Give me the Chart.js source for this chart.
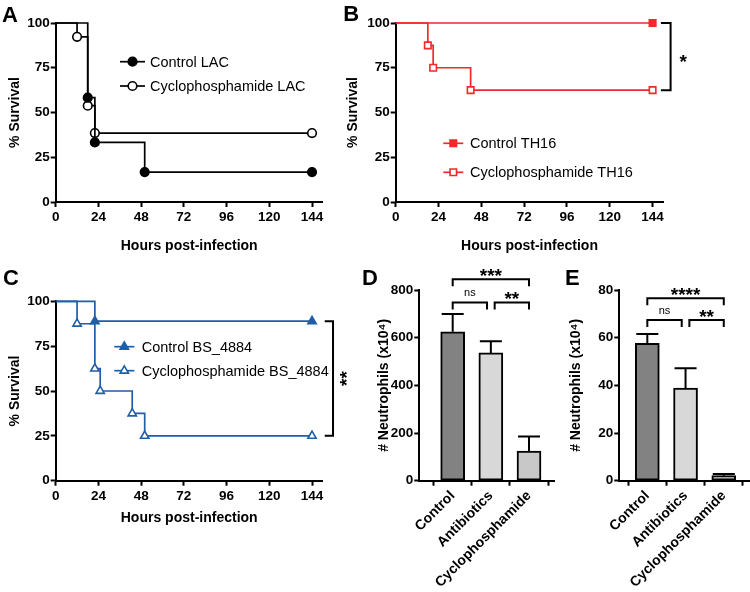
<!DOCTYPE html>
<html>
<head>
<meta charset="utf-8">
<script src="https://cdn.jsdelivr.net/npm/chart.js@4.4.0/dist/chart.umd.min.js"></script>
<style>
  body { margin: 0; background: #fff; }
  #fig { position: relative; width: 750px; height: 592px; overflow: hidden; }
  canvas { position: absolute; }
</style>
</head>
<body>
<div id="fig">
  <canvas id="cA" width="340" height="270" style="left:0;top:0"></canvas>
  <canvas id="cB" width="410" height="270" style="left:340px;top:0"></canvas>
  <canvas id="cC" width="360" height="290" style="left:0;top:260px"></canvas>
  <canvas id="cD" width="195" height="332" style="left:360px;top:260px"></canvas>
  <canvas id="cE" width="195" height="332" style="left:555px;top:260px"></canvas>
</div>
<script>
/* ---- data ---- */
const hourTicks = [0, 24, 48, 72, 96, 120, 144];
const survTicks = [0, 25, 50, 75, 100];

// A - LAC
const ctrlLacHours = [0, 18, 22, 50, 144];
const ctrlLacSurv  = [100, 58.3, 33.3, 16.7, 16.7];
const cycLacHours  = [0, 12, 18, 22, 144];
const cycLacSurv   = [100, 92.3, 53.8, 38.5, 38.5];
// B - TH16
const ctrlThHours = [0, 144];
const ctrlThSurv  = [100, 100];
const cycThHours  = [0, 18, 21, 42, 144];
const cycThSurv   = [100, 87.5, 75, 62.5, 62.5];
// C - BS_4884
const ctrlBsHours = [0, 22, 144];
const ctrlBsSurv  = [100, 88.9, 88.9];
const cycBsHours  = [0, 12, 22, 25, 43, 50, 144];
const cycBsSurv   = [100, 87.5, 62.5, 50, 37.5, 25, 25];

// D / E - neutrophils
const groups = ['Control', 'Antibiotics', 'Cyclophosphamide'];
const neutroD = [625, 536, 124];
const semD    = [74, 49, 61];
const neutroE = [57.6, 38.9, 2.1];
const semE    = [3.9, 8.3, 0.7];
const ticksD  = [0, 200, 400, 600, 800];
const ticksE  = [0, 20, 40, 60, 80];
// [from, to, y, label]
const sigD = [[0, 2, 845, '***'], [0, 0.9, 748, 'ns'], [1.1, 2, 748, '**']];
const sigE = [[0, 2, 76.5, '****'], [0, 0.9, 67.4, 'ns'], [1.1, 2, 67.4, '**']];

/* ---- look ---- */
const FONT = '"Liberation Sans", Arial, Helvetica, sans-serif';
Chart.defaults.font.family = FONT;
Chart.defaults.color = '#000';

const RED = '#f2282a';
const BLUE = '#1f5ea8';
const barColors = ['#828282', '#d8d8d8', '#c8c8c8'];

const gridOpts = { drawOnChartArea: false, drawTicks: true, tickLength: 5, tickWidth: 2, tickColor: '#000' };
const borderOpts = { display: true, color: '#000', width: 2 };
const tickFont = { size: 13.5, weight: 'bold' };
const titleFont = { size: 14, weight: 'bold' };

function drawMarker(ctx, style, x, y, r, color, filled) {
    ctx.save();
    ctx.beginPath();
    if (style === 'circle') {
        ctx.arc(x, y, r, 0, Math.PI * 2);
    } else if (style === 'rect') {
        const s = r * Math.SQRT1_2;
        ctx.rect(x - s, y - s, 2 * s, 2 * s);
    } else {
        ctx.moveTo(x, y - r);
        ctx.lineTo(x + 0.866 * r, y + 0.5 * r);
        ctx.lineTo(x - 0.866 * r, y + 0.5 * r);
        ctx.closePath();
    }
    ctx.fillStyle = filled ? color : '#fff';
    ctx.fill();
    ctx.lineWidth = 1.6;
    ctx.strokeStyle = color;
    ctx.stroke();
    ctx.restore();
}

function drawLetter(ctx, txt, x, y) {
    ctx.save();
    ctx.font = 'bold 22px ' + FONT;
    ctx.fillStyle = '#000';
    ctx.textBaseline = 'alphabetic';
    ctx.fillText(txt, x, y);
    ctx.restore();
}

function drawLegend(ctx, items, x0, x1, tx) {
    ctx.save();
    ctx.font = '14.5px ' + FONT;
    ctx.textBaseline = 'middle';
    for (const it of items) {
        ctx.beginPath();
        ctx.moveTo(x0, it.y);
        ctx.lineTo(x1, it.y);
        ctx.strokeStyle = it.color;
        ctx.lineWidth = 1.7;
        ctx.stroke();
        drawMarker(ctx, it.style, (x0 + x1) / 2, it.y, it.r, it.color, it.filled);
        ctx.fillStyle = '#000';
        ctx.fillText(it.text, tx, it.y + 1);
    }
    ctx.restore();
}

// asterisk glyph sits high in the em box, so place by glyph centre
function drawStars(ctx, txt, cx, cy, size, vertical) {
    ctx.save();
    ctx.font = 'bold ' + size + 'px ' + FONT;
    ctx.fillStyle = '#000';
    ctx.textAlign = 'center';
    ctx.textBaseline = 'alphabetic';
    if (vertical) {
        ctx.translate(cx + 0.58 * size, cy);
        ctx.rotate(-Math.PI / 2);
        ctx.fillText(txt, 0, 0);
    } else {
        ctx.fillText(txt, cx, cy + 0.58 * size);
    }
    ctx.restore();
}

function sideBracket(chart, yTop, yBot, a, b, stars, sx, vertical) {
    const ctx = chart.ctx;
    const xs = chart.scales.x, ys = chart.scales.y;
    const x144 = xs.getPixelForValue(144);
    const y1 = ys.getPixelForValue(yTop), y2 = ys.getPixelForValue(yBot);
    ctx.save();
    ctx.beginPath();
    ctx.moveTo(x144 + a, y1);
    ctx.lineTo(x144 + b, y1);
    ctx.lineTo(x144 + b, y2);
    ctx.lineTo(x144 + a, y2);
    ctx.strokeStyle = '#000';
    ctx.lineWidth = 2;
    ctx.stroke();
    ctx.restore();
    drawStars(ctx, stars, x144 + sx, (y1 + y2) / 2, 19, vertical);
}

function kmSet(hours, surv, color, style, filled, r) {
    return {
        data: hours.map((h, i) => ({ x: h, y: surv[i] })),
        stepped: 'before',
        borderColor: color,
        borderWidth: 1.7,
        pointStyle: style,
        pointRadius: hours.map((h, i) => (i === 0 ? 0 : r)),
        pointBackgroundColor: filled ? color : '#fff',
        pointBorderColor: color,
        pointBorderWidth: 1.6,
        clip: false
    };
}

function kmChart(id, datasets, cfg, extra) {
    return new Chart(document.getElementById(id), {
        type: 'line',
        data: { datasets },
        options: {
            responsive: false,
            animation: false,
            layout: { padding: { top: cfg.top, right: cfg.right, left: 0, bottom: 0 } },
            plugins: { legend: { display: false }, tooltip: { enabled: false } },
            scales: {
                x: {
                    type: 'linear', min: 0, max: 150,
                    afterBuildTicks: s => { s.ticks = hourTicks.map(v => ({ value: v })); },
                    afterFit: s => { s.height = cfg.xh; },
                    grid: gridOpts, border: borderOpts,
                    ticks: { font: tickFont, padding: 2, maxRotation: 0, autoSkip: false },
                    title: { display: true, text: 'Hours post-infection', font: titleFont,
                             padding: { top: 0, bottom: cfg.xtb } }
                },
                y: {
                    type: 'linear', min: 0, max: 100,
                    afterBuildTicks: s => { s.ticks = survTicks.map(v => ({ value: v })); },
                    afterFit: s => { s.width = cfg.yw; },
                    grid: gridOpts, border: borderOpts,
                    ticks: { font: tickFont, padding: 1 },
                    title: { display: true, text: '% Survival', font: titleFont,
                             padding: { top: cfg.ytp, bottom: 0 } }
                }
            }
        },
        plugins: [{ id: 'extras', afterDraw: extra }]
    });
}

/* ---- A ---- */
kmChart('cA', [
    kmSet(ctrlLacHours, ctrlLacSurv, '#000', 'circle', true, 4.3),
    kmSet(cycLacHours, cycLacSurv, '#000', 'circle', false, 4.3)
], { top: 23, right: 17.3, yw: 55.7, xh: 68, xtb: 15.6, ytp: 6.6 }, chart => {
    const ctx = chart.ctx;
    drawLetter(ctx, 'A', 2, 21.7);
    drawLegend(ctx, [
        { y: 61.7, text: 'Control LAC', color: '#000', style: 'circle', r: 4.3, filled: true },
        { y: 86, text: 'Cyclophosphamide LAC', color: '#000', style: 'circle', r: 4.3, filled: false }
    ], 120, 145, 150);
});

/* ---- B ---- */
kmChart('cB', [
    kmSet(ctrlThHours, ctrlThSurv, RED, 'rect', true, 4.6),
    kmSet(cycThHours, cycThSurv, RED, 'rect', false, 4.6)
], { top: 23, right: 86.7, yw: 55.7, xh: 68, xtb: 15.6, ytp: 4.6 }, chart => {
    const ctx = chart.ctx;
    drawLetter(ctx, 'B', 3.3, 20.7);
    drawLegend(ctx, [
        { y: 143.3, text: 'Control TH16', color: RED, style: 'rect', r: 4.6, filled: true },
        { y: 172.3, text: 'Cyclophosphamide TH16', color: RED, style: 'rect', r: 4.6, filled: false }
    ], 103.3, 123.3, 130);
    sideBracket(chart, ctrlThSurv[ctrlThSurv.length - 1], cycThSurv[cycThSurv.length - 1], 8.3, 18, '*', 30.6, false);
});

/* ---- C ---- */
kmChart('cC', [
    kmSet(ctrlBsHours, ctrlBsSurv, BLUE, 'triangle', true, 4.8),
    kmSet(cycBsHours, cycBsSurv, BLUE, 'triangle', false, 4.8)
], { top: 41.3, right: 37.3, yw: 55.7, xh: 69.3, xtb: 23.6, ytp: 6.6 }, chart => {
    const ctx = chart.ctx;
    drawLetter(ctx, 'C', 3, 25);
    drawLegend(ctx, [
        { y: 86.7, text: 'Control BS_4884', color: BLUE, style: 'triangle', r: 4.8, filled: true },
        { y: 110.7, text: 'Cyclophosphamide BS_4884', color: BLUE, style: 'triangle', r: 4.8, filled: false }
    ], 114.3, 134.3, 141.7);
    sideBracket(chart, ctrlBsSurv[ctrlBsSurv.length - 1], cycBsSurv[cycBsSurv.length - 1], 12.7, 21, '**', 30, true);
});

/* ---- D / E ---- */
function barChart(id, letter, lx, values, sems, yTicks, xMin, xMax, sig, cfg) {
    return new Chart(document.getElementById(id), {
        type: 'bar',
        data: {
            datasets: [{
                data: values.map((v, i) => ({ x: i, y: v })),
                backgroundColor: barColors,
                borderColor: '#000',
                borderWidth: 2,
                borderSkipped: false,
                barThickness: 24
            }]
        },
        options: {
            responsive: false,
            animation: false,
            layout: { padding: { top: cfg.top, right: cfg.right, left: 0, bottom: 0 } },
            plugins: { legend: { display: false }, tooltip: { enabled: false } },
            scales: {
                x: {
                    type: 'linear', min: xMin, max: xMax, offset: false,
                    afterBuildTicks: s => { s.ticks = groups.map((g, i) => ({ value: i })); },
                    afterFit: s => { s.height = cfg.xh; },
                    grid: gridOpts, border: borderOpts,
                    ticks: { font: { size: 14, weight: 'bold' }, padding: 2, autoSkip: false,
                             minRotation: 45, maxRotation: 45,
                             callback: v => groups[v] }
                },
                y: {
                    type: 'linear', min: 0, max: yTicks[yTicks.length - 1],
                    afterBuildTicks: s => { s.ticks = yTicks.map(v => ({ value: v })); },
                    afterFit: s => { s.width = cfg.yw; },
                    grid: gridOpts, border: borderOpts,
                    ticks: { font: tickFont, padding: 1 },
                    title: { display: true, text: '# Neutrophils (x10\u2074)', font: titleFont,
                             padding: { top: cfg.ytp, bottom: 0 } }
                }
            }
        },
        plugins: [{
            id: 'extras',
            afterDatasetsDraw(chart) {
                const ctx = chart.ctx;
                const xs = chart.scales.x, ys = chart.scales.y;
                ctx.save();
                ctx.strokeStyle = '#000';
                ctx.lineWidth = 2;
                values.forEach((v, i) => {
                    const x = xs.getPixelForValue(i);
                    const y0 = ys.getPixelForValue(v);
                    const y1 = ys.getPixelForValue(v + sems[i]);
                    ctx.beginPath();
                    ctx.moveTo(x, y0);
                    ctx.lineTo(x, y1);
                    ctx.moveTo(x - 11, y1);
                    ctx.lineTo(x + 11, y1);
                    ctx.stroke();
                });
                ctx.restore();
            },
            afterDraw(chart) {
                const ctx = chart.ctx;
                const xs = chart.scales.x, ys = chart.scales.y;
                drawLetter(ctx, letter, lx, 25);
                for (const [a, b, yv, label] of sig) {
                    const x1 = xs.getPixelForValue(a), x2 = xs.getPixelForValue(b);
                    const y = ys.getPixelForValue(yv);
                    ctx.save();
                    ctx.beginPath();
                    ctx.moveTo(x1, y + 7);
                    ctx.lineTo(x1, y);
                    ctx.lineTo(x2, y);
                    ctx.lineTo(x2, y + 7);
                    ctx.strokeStyle = '#000';
                    ctx.lineWidth = 2;
                    ctx.stroke();
                    ctx.restore();
                    const cx = (x1 + x2) / 2;
                    if (label === 'ns') {
                        ctx.save();
                        ctx.font = '11px ' + FONT;
                        ctx.fillStyle = '#000';
                        ctx.textAlign = 'center';
                        ctx.textBaseline = 'alphabetic';
                        ctx.fillText(label, cx, y - 6);
                        ctx.restore();
                    } else {
                        drawStars(ctx, label, cx, y - 8.3, 19, false);
                    }
                }
            }
        }]
    });
}

barChart('cD', 'D', 2, neutroD, semD, ticksD, -0.875, 2.663, sigD,
    { top: 30, right: 0.7, yw: 59.3, xh: 111.3, ytp: 15.6 });
barChart('cE', 'E', 10, neutroE, semE, ticksE, -0.733, 2.66, sigE,
    { top: 30, right: 1, yw: 64.3, xh: 111.3, ytp: 12.3 });
</script>
</body>
</html>
